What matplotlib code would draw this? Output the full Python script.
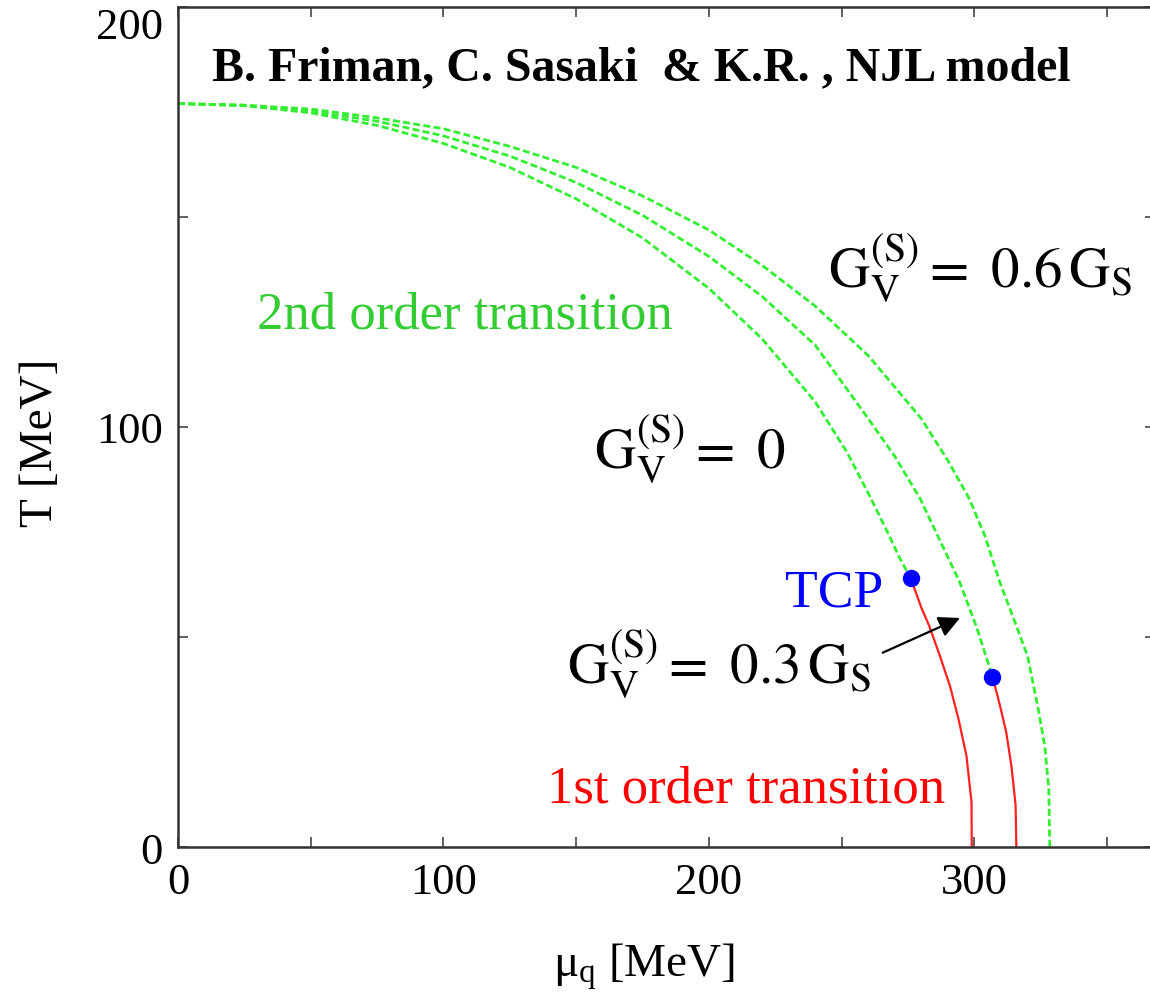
import matplotlib
matplotlib.use("Agg")
import matplotlib.pyplot as plt
from matplotlib.ticker import MultipleLocator, FixedLocator

plt.rcParams.update({
    'font.family': ['Liberation Serif', 'DejaVu Serif'],
    'mathtext.fontset': 'stix',
})

# phase boundaries (mu_q, T in MeV)
# G_V = 0 : 2nd order part, then 1st order part below the TCP
gv0_2nd_mu = [0, 25, 50, 75, 100, 125, 150, 175, 200, 220, 240, 252, 260.6, 268, 272, 276]
gv0_2nd_T = [177, 176.5, 174.8, 171.8, 167.5, 161.8, 154.3, 145, 133, 121, 106, 94, 83.5, 74, 68.6, 64]
gv0_1st_mu = [276, 280, 283, 287, 290.8, 294, 297, 298.9, 299]
gv0_1st_T = [64, 57, 52.6, 45.5, 38.3, 30.5, 21.7, 10.7, 0]

# G_V = 0.3 G_S
gv3_2nd_mu = [0, 25, 50, 75, 100, 125, 150, 175, 200, 220, 240, 260, 270, 279.5, 287, 294.5, 301, 306.8]
gv3_2nd_T = [177, 176.6, 175.2, 172.8, 169.3, 164.5, 158.2, 150.4, 140.6, 131.1, 119.5, 102, 93, 83, 73, 63, 52, 40.6]
gv3_1st_mu = [306.8, 309.5, 312, 314, 315.5, 315.8]
gv3_1st_T = [40.6, 34, 27.3, 19, 10, 0]

# G_V = 0.6 G_S : 2nd order all the way down
gv6_mu = [0, 25, 50, 75, 100, 125, 150, 175, 200, 220, 240, 260, 280, 290, 298, 304,
          309.6, 315, 320, 324, 326.5, 328, 328.4]
gv6_T = [177, 176.6, 175.7, 173.6, 171, 166.8, 161.8, 155, 146.9, 138.5, 128.8, 117, 102, 92,
         83, 74, 63, 54, 45.5, 33, 24, 14, 0]

# tricritical points
tcp_mu = [276, 306.8]
tcp_T = [64, 40.6]

x_ticks = [0, 100, 200, 300]
y_ticks = [0, 100, 200]

green = '#33ee33'
red = '#ff2020'

fig = plt.figure(figsize=(11.5, 9.95), dpi=100)
ax = fig.add_axes([0.1548, 0.1477, 0.8495, 0.8443])

dash_kw = dict(color=green, lw=2.0, dashes=(2.5, 1.2))
ax.plot(gv0_2nd_mu, gv0_2nd_T, **dash_kw)
ax.plot(gv3_2nd_mu, gv3_2nd_T, **dash_kw)
ax.plot(gv6_mu, gv6_T, **dash_kw)
ax.plot(gv0_1st_mu, gv0_1st_T, color=red, lw=1.6)
ax.plot(gv3_1st_mu, gv3_1st_T, color=red, lw=1.6)
ax.plot(tcp_mu, tcp_T, 'o', color='#0000ff', ms=11.5, zorder=5)

ax.set_xlim(0, 368)
ax.set_ylim(0, 200)

ax.xaxis.set_major_locator(FixedLocator(x_ticks))
ax.yaxis.set_major_locator(FixedLocator(y_ticks))
ax.xaxis.set_minor_locator(MultipleLocator(50))
ax.yaxis.set_minor_locator(MultipleLocator(50))
ax.tick_params(which='both', direction='in', top=True, right=True,
               length=7, width=1.3, color='#555555')
ax.tick_params(which='major', labelsize=32, pad=11)
for s in ax.spines.values():
    s.set_color('#333333')
    s.set_linewidth(1.8)

# top y label sits below its tick, like the original
ax.yaxis.get_major_ticks()[2].label1.set_va('top')

ax.set_xlabel(r'$\mathregular{\mu_q}$ [MeV]', fontsize=34)
ax.set_ylabel('T [MeV]', fontsize=34)
ax.xaxis.set_label_coords(0.477, -0.112)
ax.yaxis.set_label_coords(-0.119, 0.482)

# labels
ax.text(0.035, 0.914, 'B. Friman, C. Sasaki  & K.R. , NJL model', transform=ax.transAxes,
        fontsize=34.5, fontweight='bold', va='baseline')
ax.text(0.081, 0.619, '2nd order transition', transform=ax.transAxes,
        fontsize=38, color='#33cc33', va='baseline')
ax.text(0.378, 0.054, '1st order transition', transform=ax.transAxes,
        fontsize=38, color='#ff0000', va='baseline')
ax.text(0.621, 0.288, 'TCP', transform=ax.transAxes,
        fontsize=38.5, color='#0000ff', va='baseline')
ax.text(0.665, 0.667, r'$\mathrm{G}_{\mathrm{V}}^{(\mathrm{S})}=\ 0.6\,\mathrm{G}_{\mathrm{S}}$',
        transform=ax.transAxes, fontsize=41, va='baseline')
ax.text(0.426, 0.452, r'$\mathrm{G}_{\mathrm{V}}^{(\mathrm{S})}=\ 0$',
        transform=ax.transAxes, fontsize=41, va='baseline')
ax.text(0.398, 0.196, r'$\mathrm{G}_{\mathrm{V}}^{(\mathrm{S})}=\ 0.3\,\mathrm{G}_{\mathrm{S}}$',
        transform=ax.transAxes, fontsize=41, va='baseline')
ax.annotate('', xy=(295.5, 54.8), xytext=(264.5, 46),
            arrowprops=dict(arrowstyle='-|>', color='black', lw=1.6,
                            mutation_scale=32))

fig.savefig('out.png', dpi=100)
